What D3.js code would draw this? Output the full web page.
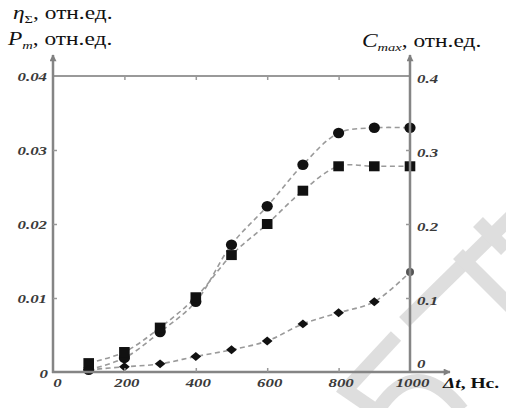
<!DOCTYPE html>
<html>
<head>
<meta charset="utf-8">
<script src="https://cdn.jsdelivr.net/npm/d3@7"></script>
<style>
  body { margin: 0; background: #fff; }
  svg text { font-family: "Liberation Serif", "Times New Roman", serif; }
</style>
</head>
<body>
<div id="chart"></div>
<script>
// values
const dt = [100, 200, 300, 400, 500, 600, 700, 800, 900, 1000];
const eta = [0.0003, 0.0019, 0.0054, 0.0095, 0.0172, 0.0224, 0.0280, 0.0323, 0.0330, 0.0330];
const pm = [0.0012, 0.0027, 0.0060, 0.0101, 0.0158, 0.0200, 0.0245, 0.0278, 0.0278, 0.0278];
const cmax = [0.003, 0.007, 0.011, 0.021, 0.030, 0.042, 0.065, 0.080, 0.095, 0.135];
const xTicks = [0, 200, 400, 600, 800, 1000];
const leftTicks = [0, 0.01, 0.02, 0.03, 0.04];
const rightTicks = [0, 0.1, 0.2, 0.3, 0.4];

const W = 506, H = 408;
const sx = 1.35; // the scan is stretched sideways, so is the text
const serif = '"Liberation Serif", "Times New Roman", serif';

const x = d3.scaleLinear().domain([0, 1000]).range([53, 410]);
const yL = d3.scaleLinear().domain([0, 0.04]).range([372, 76]);
const yR = d3.scaleLinear().domain([0, 0.4]).range([372, 76]);
const fmt = d => d === 0 ? "0" : String(d);

const svg = d3.select("#chart").append("svg")
    .attr("width", W).attr("height", H)
    .attr("font-family", serif);

svg.append("defs").append("marker")
    .attr("id", "arrow")
    .attr("viewBox", "0 0 10 10")
    .attr("refX", 9).attr("refY", 5)
    .attr("markerWidth", 10).attr("markerHeight", 7)
    .attr("markerUnits", "userSpaceOnUse")
    .attr("orient", "auto")
  .append("path")
    .attr("d", "M0,0L10,5L0,10Z")
    .attr("fill", "#808080");

// faint watermark of the source scan
const wm = svg.append("g")
    .attr("fill", "none")
    .attr("stroke", "#dedede")
    .attr("stroke-width", 14);
wm.append("path").attr("d", "M404,322L512,216");
wm.append("path").attr("d", "M458,254L512,308");
wm.append("path").attr("d", "M478,222L506,250");
wm.append("path").attr("d", "M344,392L396,336");
wm.append("path").attr("d", "M340,386L378,412");
wm.append("path").attr("d", "M378,410Q416,352,462,410");

// top border line
svg.append("line")
    .attr("x1", x(0)).attr("x2", x(1000))
    .attr("y1", yL(0.04)).attr("y2", yL(0.04))
    .attr("stroke", "#999").attr("stroke-width", 2);

// dashed curves
const series = [
  {vals: eta, y: yL, shape: "circle"},
  {vals: pm, y: yL, shape: "square"},
  {vals: cmax, y: yR, shape: "diamond"}
];

series.forEach(s => {
  const line = d3.line()
      .x((d, i) => x(dt[i]))
      .y(d => s.y(d))
      .curve(d3.curveCatmullRom.alpha(0.5));
  svg.append("path")
      .datum(s.vals)
      .attr("fill", "none")
      .attr("stroke", "#9a9a9a")
      .attr("stroke-width", 1.6)
      .attr("stroke-dasharray", "5,3.5")
      .attr("d", line);
});

// markers
series.forEach(s => {
  const g = svg.append("g").attr("fill", "#111");
  s.vals.forEach((v, i) => {
    const cx = x(dt[i]), cy = s.y(v);
    if (s.shape === "circle") {
      g.append("ellipse").attr("cx", cx).attr("cy", cy).attr("rx", 5.6).attr("ry", 5.2);
    } else if (s.shape === "square") {
      g.append("rect").attr("x", cx - 5.3).attr("y", cy - 5).attr("width", 10.6).attr("height", 10);
    } else if (i === s.vals.length - 1) {
      g.append("circle").attr("cx", cx).attr("cy", cy).attr("r", 4).attr("fill", "#555");
    } else {
      g.append("path")
          .attr("d", d3.symbol(d3.symbolSquare, 40)())
          .attr("transform", `translate(${cx},${cy}) scale(1.2,1) rotate(45)`);
    }
  });
});

// axis lines with arrows
const axisStroke = (sel) => sel.attr("stroke", "#858585").attr("stroke-width", 2.5);
svg.append("line").attr("x1", x(0)).attr("x2", x(0))
    .attr("y1", yL(0) + 1).attr("y2", 55)
    .call(axisStroke).attr("marker-end", "url(#arrow)");
svg.append("line").attr("x1", x(1000)).attr("x2", x(1000))
    .attr("y1", yR(0)).attr("y2", 55)
    .call(axisStroke).attr("marker-end", "url(#arrow)");
svg.append("line").attr("x1", x(0) - 1).attr("x2", 450)
    .attr("y1", yL(0)).attr("y2", yL(0))
    .call(axisStroke).attr("marker-end", "url(#arrow)");

// small tick marks
const tickStyle = g => {
  g.select(".domain").remove();
  g.selectAll(".tick line").attr("stroke", "#999").attr("stroke-width", 1.5);
};
svg.append("g").attr("transform", `translate(0,${yL(0)})`)
    .call(d3.axisTop(x).tickValues([200, 400, 600, 800]).tickSize(4).tickFormat(""))
    .call(tickStyle);
svg.append("g").attr("transform", `translate(0,${yL(0.04)})`)
    .call(d3.axisBottom(x).tickValues([200, 400, 600, 800]).tickSize(4).tickFormat(""))
    .call(tickStyle);
svg.append("g").attr("transform", `translate(${x(0)},0)`)
    .call(d3.axisRight(yL).tickValues([0.01, 0.02, 0.03]).tickSize(4).tickFormat(""))
    .call(tickStyle);
svg.append("g").attr("transform", `translate(${x(1000)},0)`)
    .call(d3.axisLeft(yR).tickValues([0.1, 0.2, 0.3]).tickSize(4).tickFormat(""))
    .call(tickStyle);

// tick labels
const labelStyle = (g, dx, dy, anchor) => {
  g.attr("font-family", serif);
  g.select(".domain").remove();
  g.selectAll(".tick line").remove();
  g.selectAll(".tick text")
      .attr("x", 0).attr("y", 0).attr("dy", null)
      .attr("text-anchor", anchor)
      .attr("transform", d => `translate(${dx(d)},${dy(d)}) scale(${sx},1)`)
      .attr("font-family", serif)
      .attr("font-size", 12.5)
      .attr("font-style", "italic")
      .attr("font-weight", "bold")
      .attr("fill", "#3a3a3a");
};
svg.append("g").attr("transform", `translate(0,${yL(0)})`)
    .call(d3.axisBottom(x).tickValues(xTicks).tickSize(0).tickFormat(fmt))
    .call(g => labelStyle(g, d => d === 0 ? 4 : 2, () => 15, "middle"));
svg.append("g").attr("transform", `translate(${x(0)},0)`)
    .call(d3.axisLeft(yL).tickValues(leftTicks).tickSize(0).tickFormat(fmt))
    .call(g => labelStyle(g, d => d === 0 ? -5 : -6, d => d === 0 ? 5 : 4.5, "end"));
svg.append("g").attr("transform", `translate(${x(1000)},0)`)
    .call(d3.axisRight(yR).tickValues(rightTicks).tickSize(0).tickFormat(fmt))
    .call(g => labelStyle(g, () => 7, d => d === 0 ? -5 : 6, "start"));

// axis titles
function title(tx, ty, sym, sub, rest, size, subItalic) {
  const t = svg.append("g")
      .attr("transform", `translate(${tx},${ty}) scale(${sx - 0.05},1)`)
    .append("text")
      .attr("font-size", size)
      .attr("fill", "#111");
  t.append("tspan").attr("font-style", "italic").text(sym);
  if (sub) {
    t.append("tspan").attr("font-size", size * 0.62).attr("dy", 4)
        .attr("font-style", subItalic ? "italic" : null).text(sub);
  }
  t.append("tspan").attr("dy", sub ? -4 : 0).text(rest);
  return t;
}
title(13, 19, "η", "Σ", ", отн.ед.", 18, false);
title(8, 45, "P", "m", ", отн.ед.", 18, true);
title(362, 47, "C", "max", ", отн.ед.", 18, true);
title(443, 388, "Δt", null, ", Нс.", 15, false).attr("font-weight", "bold");
</script>
</body>
</html>
